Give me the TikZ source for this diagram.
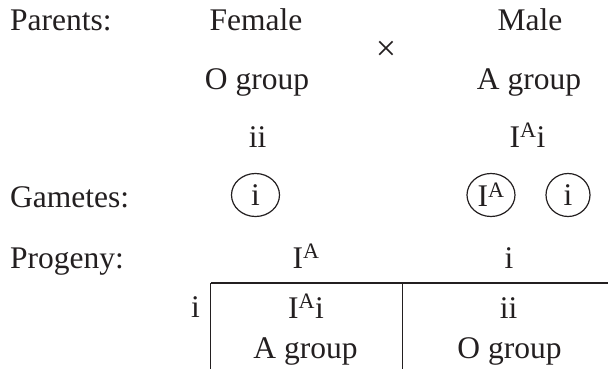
\documentclass[tikz,border=0pt]{standalone}
\usepackage{fontspec}
\setmainfont{Liberation Serif}
\usetikzlibrary{shapes.geometric}
\definecolor{ink}{HTML}{231F20}
\begin{document}
\begin{tikzpicture}[x=1pt,y=-1pt,
  txt/.style={inner sep=0pt,anchor=base,text=ink,font=\fontsize{31.5}{37}\selectfont},
  lbl/.style={txt,anchor=base west},
  gam/.style={ellipse,draw=ink,line width=1.2pt,minimum width=48pt,minimum height=43pt,inner sep=0pt,text=ink,font=\fontsize{31.5}{37}\selectfont},
  grid/.style={draw=ink,line width=1.6pt}]
\useasboundingbox (0,0) rectangle (608,369);
% row labels
\node[lbl] (par) at (10,31) {Parents:};
\node[lbl] (gamlbl) at (10,207) {Gametes:};
\node[lbl] (prog) at (10,268) {Progeny:};
% parents
\node[txt] (fem) at (256,31) {Female};
\node[txt] (male) at (530,31) {Male};
\node[inner sep=0pt,text=ink,font=\fontsize{36}{36}\selectfont] (cross) at (386,51) {\char"00D7};
\node[txt] (og) at (257,89) {O group};
\node[txt] (ag) at (529,89) {A group};
\node[txt] (ii) at (257.5,147) {ii};
\node[txt] (iai) at (527.5,147) {I\textsuperscript{A}i};
% gametes
\node[gam] (g1) at (255.5,195) {\raisebox{-0.5pt}{i}};
\node[gam] (g2) at (491,195) {I\textsuperscript{A}};
\node[gam,minimum width=44pt] (g3) at (568,195) {i};
% progeny headers
\node[txt] (hA) at (306,268) {I\textsuperscript{A}};
\node[txt] (hi) at (509,268) {i};
\node[txt] (ri) at (195.5,317) {i};
% cells
\node[txt] (c1a) at (306,318) {I\textsuperscript{A}i};
\node[txt] (c1b) at (305.5,358) {A group};
\node[txt] (c2a) at (508.5,318) {ii};
\node[txt] (c2b) at (509.5,358) {O group};
% table lines
\coordinate (tl) at (210.5,283);
\coordinate (tr) at (608,283);
\coordinate (tm) at (402.5,283);
\coordinate (bl) at (210.5,369);
\coordinate (bm) at (402.5,369);
\draw[grid] (tl) -- (tr);
\draw[grid] (tl) -- (bl);
\draw[grid] (tm) -- (bm);
\end{tikzpicture}
\end{document}
